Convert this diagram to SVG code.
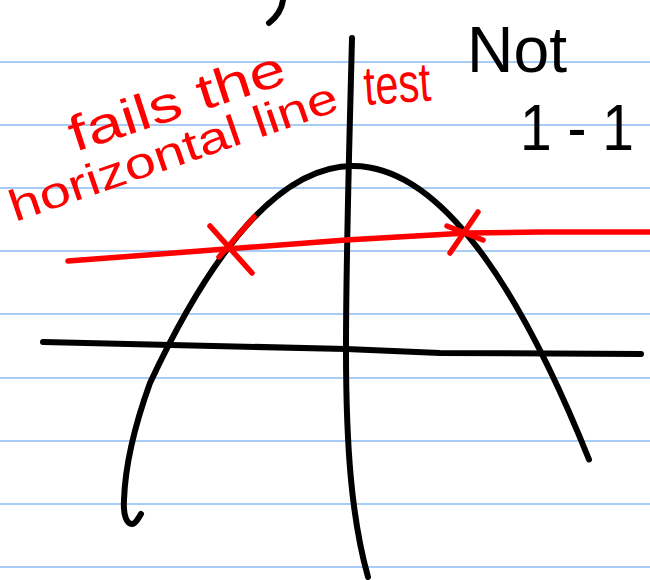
<svg xmlns="http://www.w3.org/2000/svg" width="650" height="580" viewBox="0 0 650 580">
<style>
.rule{stroke:#a7cdf6;stroke-width:2.2;fill:none}
.ink{stroke:#000;stroke-width:6;fill:none;stroke-linecap:round;stroke-linejoin:round}
.red{stroke:#ff0000;stroke-width:5.5;fill:none;stroke-linecap:round;stroke-linejoin:round}
.rt{fill:#ff0000;font-family:"Liberation Sans","DejaVu Sans",sans-serif}
.bt{fill:#000;font-family:"Liberation Sans","DejaVu Sans",sans-serif}
</style>
<rect width="650" height="580" fill="#fff"/>
<g id="paper">
<line class="rule" x1="0" y1="62" x2="650" y2="62"/>
<line class="rule" x1="0" y1="125" x2="650" y2="125"/>
<line class="rule" x1="0" y1="188" x2="650" y2="188"/>
<line class="rule" x1="0" y1="251" x2="650" y2="251"/>
<line class="rule" x1="0" y1="314" x2="650" y2="314"/>
<line class="rule" x1="0" y1="378" x2="650" y2="378"/>
<line class="rule" x1="0" y1="441" x2="650" y2="441"/>
<line class="rule" x1="0" y1="504" x2="650" y2="504"/>
<line class="rule" x1="0" y1="567" x2="650" y2="567"/>
</g>
<g id="axes">
<path class="ink" d="M283,0 C282,8 278,16 269,23"/>
<path class="ink" d="M352,38 C350,120 346,250 346,350 C346,450 352,520 368,577"/>
<path class="ink" d="M43,342 L346,349 L440,353 L641,354"/>
</g>
<g id="parabola">
<path class="ink" d="M141,514 C138,519 135,524 132,524 C127,524 123,516 124,500 C125,470 133,430 150,383 Q369.5,-86.4 589,459.5"/>
</g>
<g id="horizontal-line">
<path class="red" d="M68,261 L226,249 L346,240 L467,233 L540,232 L650,232"/>
<path class="red" d="M254,217 L219,257 M210,226 L252,273"/>
<path class="red" d="M478,212 L450,253 M447,226 L483,240"/>
</g>
<g id="labels">
<text class="rt" x="75" y="152" font-size="50" textLength="225" lengthAdjust="spacingAndGlyphs" transform="rotate(-18 75 152)">fails the</text>
<text class="rt" x="15" y="222" font-size="44" textLength="345" lengthAdjust="spacingAndGlyphs" transform="rotate(-19 15 222)">horizontal line</text>
<text class="rt" x="365" y="105" font-size="55" textLength="67" lengthAdjust="spacingAndGlyphs" transform="rotate(-4 365 105)">test</text>
<text class="bt" x="467" y="72" font-size="64" textLength="100" lengthAdjust="spacingAndGlyphs">Not</text>
<text class="bt" x="520" y="150" font-size="64" textLength="114" lengthAdjust="spacingAndGlyphs">1 - 1</text>
</g>
</svg>
